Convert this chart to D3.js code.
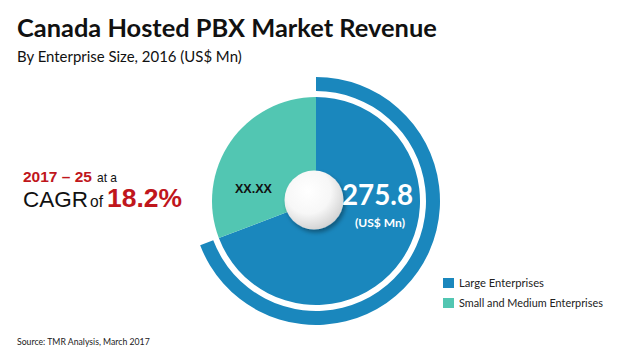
<!DOCTYPE html>
<html><head><meta charset="utf-8">
<script src="https://cdn.jsdelivr.net/npm/d3@7"></script>
<style>html,body{margin:0;padding:0;background:#fff;}svg{display:block;}</style>
</head><body>
<script>
const categories = ["Large Enterprises", "Small and Medium Enterprises"];
const values = [275.8, 122.8];
const sliceLabels = ["275.8", "XX.XX"];
const colors = ["#1a87bd", "#52c6b2"];
const title = "Canada Hosted PBX Market Revenue";
const subtitle = "By Enterprise Size, 2016 (US$ Mn)";
const unitLabel = "(US$ Mn)";
const source = "Source: TMR Analysis, March 2017";
const cagrPeriod = "2017 – 25";
const cagrValue = "18.2%";

const W = 619, H = 359;
const svg = d3.select("body").append("svg").attr("width", W).attr("height", H);
const defs = svg.append("defs");
const rg = defs.append("radialGradient").attr("id", "hub").attr("cx", "40%").attr("cy", "35%").attr("r", "70%");
rg.append("stop").attr("offset", "0%").attr("stop-color", "#ffffff");
rg.append("stop").attr("offset", "55%").attr("stop-color", "#f7f7f7");
rg.append("stop").attr("offset", "100%").attr("stop-color", "#cfcfcf");
const f = defs.append("filter").attr("id", "sh").attr("x", "-30%").attr("y", "-30%").attr("width", "160%").attr("height", "160%");
f.append("feDropShadow").attr("dx", 2).attr("dy", 3).attr("stdDeviation", 2).attr("flood-color", "#000").attr("flood-opacity", 0.35);

function fit(sel, w) {
  const len = sel.node().getComputedTextLength();
  const fs = parseFloat(sel.attr("font-size"));
  sel.attr("font-size", fs * w / len);
  return sel;
}
const calibri = "Lato, 'Open Sans', sans-serif";
const arial = "'Liberation Sans', Arial, sans-serif";

fit(svg.append("text").attr("x", 17).attr("y", 37).attr("font-family", calibri).attr("font-weight", "bold")
  .attr("font-size", 25).attr("fill", "#111").text(title), 420);
fit(svg.append("text").attr("x", 17).attr("y", 62).attr("font-family", calibri)
  .attr("font-size", 15).attr("fill", "#111").text(subtitle), 225);

// CAGR block
const red = "#c0161c";
fit(svg.append("text").attr("x", 23).attr("y", 182).attr("font-family", arial).attr("font-weight", "bold")
  .attr("font-size", 14).attr("fill", red).text(cagrPeriod), 69);
fit(svg.append("text").attr("x", 97).attr("y", 182).attr("font-family", arial)
  .attr("font-size", 12).attr("fill", "#111").text("at a"), 20);
fit(svg.append("text").attr("x", 23).attr("y", 207).attr("font-family", arial)
  .attr("font-size", 20).attr("fill", "#111").text("CAGR"), 65);
fit(svg.append("text").attr("x", 90).attr("y", 207).attr("font-family", arial)
  .attr("font-size", 12).attr("fill", "#111").text("of"), 13);
fit(svg.append("text").attr("x", 107).attr("y", 207).attr("font-family", arial).attr("font-weight", "bold")
  .attr("font-size", 27).attr("fill", red).text(cagrValue), 75);

// Pie
const cx = 316, cy = 201, r = 104;
const g = svg.append("g").attr("transform", `translate(${cx},${cy})`);
const pie = d3.pie().sort(null).value(d => d)(values);
const arc = d3.arc().innerRadius(0).outerRadius(r);
g.selectAll("path.slice").data(pie).enter().append("path").attr("class", "slice")
  .attr("d", arc).attr("fill", (d, i) => colors[i]);

// outer ring over the largest slice
const ring = d3.arc().innerRadius(110).outerRadius(124);
g.append("path").attr("d", ring({startAngle: pie[0].startAngle, endAngle: pie[0].endAngle})).attr("fill", colors[0]);

// hub
g.append("circle").attr("cx", -2).attr("cy", -1).attr("r", 29.5).attr("fill", "url(#hub)").attr("filter", "url(#sh)");

// labels
fit(svg.append("text").attr("x", 342).attr("y", 205).attr("font-family", calibri).attr("font-weight", "bold")
  .attr("font-size", 32).attr("fill", "#fff").text(sliceLabels[0]), 71);
fit(svg.append("text").attr("x", 355).attr("y", 227).attr("font-family", calibri).attr("font-weight", "bold")
  .attr("font-size", 13).attr("fill", "#fff").text(unitLabel), 50);
fit(svg.append("text").attr("x", 235).attr("y", 193).attr("font-family", arial).attr("font-weight", "bold")
  .attr("font-size", 13).attr("fill", "#111").text(sliceLabels[1]), 37);

// legend
const lg = svg.append("g");
categories.forEach((c, i) => {
  const y = 278 + i * 20;
  lg.append("rect").attr("x", 443).attr("y", y).attr("width", 11).attr("height", 10).attr("fill", colors[i]);
});
fit(lg.append("text").attr("x", 459).attr("y", 287).attr("font-family", calibri).attr("font-size", 12)
  .attr("fill", "#222").text(categories[0]), 85);
fit(lg.append("text").attr("x", 459).attr("y", 307).attr("font-family", calibri).attr("font-size", 12)
  .attr("fill", "#222").text(categories[1]), 144);

fit(svg.append("text").attr("x", 17).attr("y", 345).attr("font-family", calibri).attr("font-size", 10)
  .attr("fill", "#222").text(source), 133);
</script>
</body></html>
